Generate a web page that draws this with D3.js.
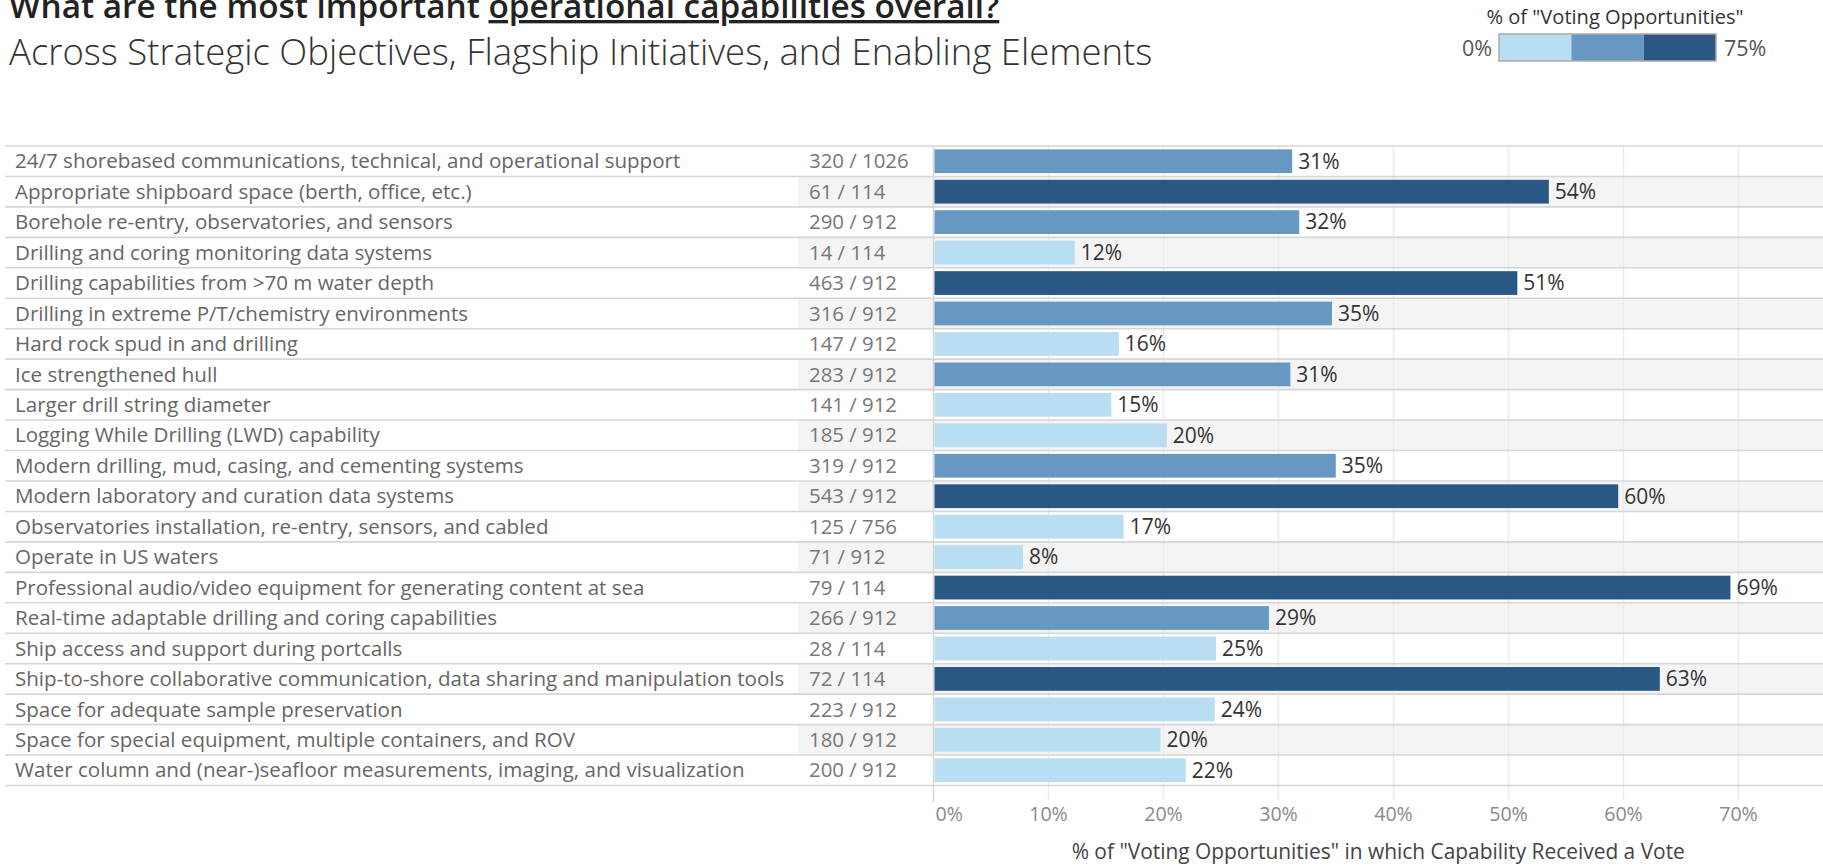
<!DOCTYPE html>
<html>
<head>
<meta charset="utf-8">
<script src="https://cdn.jsdelivr.net/npm/d3@7"></script>
<style>
  html, body { margin: 0; padding: 0; background: #fff; }
  svg { display: block; font-family: "Open Sans", "Noto Sans", sans-serif; }
</style>
</head>
<body>
<svg id="chart" width="1823" height="866"></svg>
<script>
// Operational capabilities and the votes each received
const capabilities = [
  "24/7 shorebased communications, technical, and operational support",
  "Appropriate shipboard space (berth, office, etc.)",
  "Borehole re-entry, observatories, and sensors",
  "Drilling and coring monitoring data systems",
  "Drilling capabilities from >70 m water depth",
  "Drilling in extreme P/T/chemistry environments",
  "Hard rock spud in and drilling",
  "Ice strengthened hull",
  "Larger drill string diameter",
  "Logging While Drilling (LWD) capability",
  "Modern drilling, mud, casing, and cementing systems",
  "Modern laboratory and curation data systems",
  "Observatories installation, re-entry, sensors, and cabled",
  "Operate in US waters",
  "Professional audio/video equipment for generating content at sea",
  "Real-time adaptable drilling and coring capabilities",
  "Ship access and support during portcalls",
  "Ship-to-shore collaborative communication, data sharing and manipulation tools",
  "Space for adequate sample preservation",
  "Space for special equipment, multiple containers, and ROV",
  "Water column and (near-)seafloor measurements, imaging, and visualization"
];
const votes = [320, 61, 290, 14, 463, 316, 147, 283, 141, 185, 319, 543, 125, 71, 79, 266, 28, 72, 223, 180, 200];
const opportunities = [1026, 114, 912, 114, 912, 912, 912, 912, 912, 912, 912, 912, 756, 912, 114, 912, 114, 114, 912, 912, 912];

const tickValues = [0, 0.1, 0.2, 0.3, 0.4, 0.5, 0.6, 0.7];
const colorBreaks = [0.25, 0.5];
const colorSteps = ["#b9ddf1", "#6798c1", "#2a5783"];
const legendLabels = ["0%", "75%"];

const titleMain = "What are the most important ";
const titleUnderlined = "operational capabilities overall?";
const subtitle = "Across Strategic Objectives, Flagship Initiatives, and Enabling Elements";
const legendTitle = '% of "Voting Opportunities"';
const axisTitle = '% of "Voting Opportunities" in which Capability Received a Vote';

const rows = capabilities.map((c, i) => ({
  name: c, votes: votes[i], opps: opportunities[i], share: votes[i] / opportunities[i], i
}));

const svg = d3.select("#chart");
const W = 1823;

const y = d3.scaleBand().domain(capabilities).range([146, 785.5]).padding(0);
const x = d3.scaleLinear().domain([0, 0.7]).range([933.5, 1738.5]);
const color = d3.scaleThreshold().domain(colorBreaks).range(colorSteps);
const pct = d3.format(".0%");

// Alternating row shading (count column and plot area only)
svg.append("g").selectAll("rect")
  .data(rows.filter(d => d.i % 2 === 1))
  .join("rect")
  .attr("x", 798).attr("width", W - 798)
  .attr("y", d => y(d.name)).attr("height", y.bandwidth())
  .attr("fill", "#f4f4f4");

// Vertical gridlines
svg.append("g").selectAll("line")
  .data(tickValues.slice(1))
  .join("line")
  .attr("x1", d => x(d)).attr("x2", d => x(d))
  .attr("y1", 146).attr("y2", 800)
  .attr("stroke", "#ececec").attr("stroke-width", 1.5);

// Row separators
svg.append("g").selectAll("line")
  .data(d3.range(capabilities.length + 1))
  .join("line")
  .attr("x1", 5).attr("x2", W)
  .attr("y1", i => 146 + i * y.step()).attr("y2", i => 146 + i * y.step())
  .attr("stroke", "#d6d6d6").attr("stroke-width", 1.6);

// Zero line
svg.append("line")
  .attr("x1", x(0)).attr("x2", x(0)).attr("y1", 146).attr("y2", 802)
  .attr("stroke", "#d6d6d6").attr("stroke-width", 1.5);

// Bars
const barH = y.bandwidth() * 0.78;
svg.append("g").selectAll("rect")
  .data(rows)
  .join("rect")
  .attr("x", x(0) + 1)
  .attr("y", d => y(d.name) + (y.bandwidth() - barH) / 2)
  .attr("width", d => x(d.share) - x(0) - 1)
  .attr("height", barH)
  .attr("fill", d => color(d.share));

// Value labels
svg.append("g").selectAll("text")
  .data(rows)
  .join("text")
  .attr("x", d => x(d.share) + 6)
  .attr("y", d => y(d.name) + y.bandwidth() / 2)
  .attr("dy", "0.35em")
  .attr("font-size", 21)
  .attr("fill", "#333")
  .text(d => pct(d.share));

// Row labels
svg.append("g").selectAll("text")
  .data(rows)
  .join("text")
  .attr("x", 15)
  .attr("y", d => y(d.name) + y.bandwidth() / 2)
  .attr("dy", "0.35em")
  .attr("font-size", 20.55)
  .attr("fill", "#666")
  .text(d => d.name);

// Vote counts
svg.append("g").selectAll("text")
  .data(rows)
  .join("text")
  .attr("x", 809)
  .attr("y", d => y(d.name) + y.bandwidth() / 2)
  .attr("dy", "0.35em")
  .attr("font-size", 20.4)
  .attr("fill", "#777")
  .text(d => `${d.votes} / ${d.opps}`);

// X axis tick labels
svg.append("g").selectAll("text")
  .data(tickValues)
  .join("text")
  .attr("x", d => d === 0 ? x(d) + 2 : x(d))
  .attr("y", 814)
  .attr("dy", "0.35em")
  .attr("text-anchor", d => d === 0 ? "start" : "middle")
  .attr("font-size", 19.6)
  .attr("fill", "#8a8a8a")
  .text(d => pct(d));

// Axis title
svg.append("text")
  .attr("x", (x(0) + W) / 2)
  .attr("y", 859)
  .attr("text-anchor", "middle")
  .attr("font-size", 20.9)
  .attr("font-weight", 500)
  .attr("fill", "#444")
  .text(axisTitle);

// Title
const title = svg.append("text")
  .attr("x", 9).attr("y", 18)
  .attr("font-size", 33.3)
  .attr("font-weight", 600)
  .attr("fill", "#222");
title.append("tspan").text(titleMain);
title.append("tspan").attr("text-decoration", "underline").text(titleUnderlined);

svg.append("text")
  .attr("x", 9).attr("y", 65)
  .attr("font-size", 36.5)
  .attr("font-weight", 300)
  .attr("fill", "#333")
  .text(subtitle);

// Colour legend
const lg = svg.append("g");
lg.append("text")
  .attr("x", 1615).attr("y", 24)
  .attr("text-anchor", "middle")
  .attr("font-size", 20.1)
  .attr("font-weight", 500)
  .attr("fill", "#333")
  .text(legendTitle);
const lx = d3.scaleLinear().domain([0, 0.75]).range([1499, 1716]);
const legendStops = [0].concat(colorBreaks, [0.75]);
lg.selectAll("rect")
  .data(colorSteps)
  .join("rect")
  .attr("x", (d, i) => lx(legendStops[i]))
  .attr("width", (d, i) => lx(legendStops[i + 1]) - lx(legendStops[i]))
  .attr("y", 34).attr("height", 27)
  .attr("fill", d => d);
lg.append("rect")
  .attr("x", lx(0)).attr("y", 34)
  .attr("width", lx(0.75) - lx(0)).attr("height", 27)
  .attr("fill", "none").attr("stroke", "#aaa").attr("stroke-width", 1.5);
lg.append("text")
  .attr("x", 1492).attr("y", 48).attr("dy", "0.35em")
  .attr("text-anchor", "end").attr("font-size", 21.5).attr("fill", "#555")
  .text(legendLabels[0]);
lg.append("text")
  .attr("x", 1724).attr("y", 48).attr("dy", "0.35em")
  .attr("font-size", 21.5).attr("fill", "#555")
  .text(legendLabels[1]);
</script>
</body>
</html>
